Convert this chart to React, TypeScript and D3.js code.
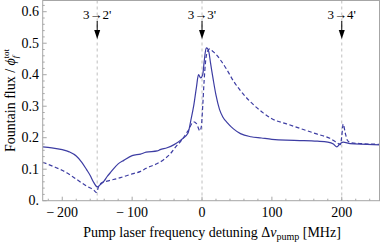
import React from 'react';
import * as d3 from 'd3';

const solidX = [-228, -215, -200, -190, -180, -172, -165, -160, -155, -150, -145, -140, -136, -130, -120, -112, -100, -88, -80, -64, -60, -50, -40, -30, -20, -16, -12, -8, -5, -2, 1, 3, 6, 8, 10, 12, 16, 20, 25, 30, 36, 45, 55, 70, 85, 100, 120, 140, 165, 180, 188, 193, 197, 202, 212, 236, 255];
const solidY = [0.171, 0.168, 0.162, 0.155, 0.142, 0.122, 0.098, 0.08, 0.058, 0.044, 0.052, 0.063, 0.076, 0.092, 0.117, 0.128, 0.143, 0.148, 0.154, 0.158, 0.162, 0.168, 0.178, 0.193, 0.215, 0.255, 0.3, 0.36, 0.4, 0.39, 0.4, 0.44, 0.485, 0.483, 0.47, 0.44, 0.385, 0.335, 0.29, 0.265, 0.248, 0.228, 0.213, 0.203, 0.199, 0.195, 0.192, 0.191, 0.189, 0.186, 0.18, 0.171, 0.18, 0.186, 0.181, 0.179, 0.177];

const dashedX = [-228, -212, -193, -179, -164, -155, -151, -148, -145, -136, -120, -100, -88, -80, -64, -55, -45, -38, -30, -20, -12, -8, -3, -1, 1, 3, 5, 8, 11, 15, 20, 26, 35, 45, 60, 75, 88, 100, 121, 145, 164, 183, 194, 198, 200, 202, 205, 208, 213, 230, 255];
const dashedY = [0.122, 0.108, 0.088, 0.067, 0.045, 0.034, 0.026, 0.045, 0.055, 0.062, 0.071, 0.085, 0.093, 0.103, 0.118, 0.13, 0.15, 0.17, 0.19, 0.222, 0.25, 0.245, 0.222, 0.235, 0.3, 0.38, 0.44, 0.475, 0.482, 0.475, 0.465, 0.448, 0.418, 0.38, 0.336, 0.302, 0.278, 0.26, 0.244, 0.226, 0.212, 0.198, 0.183, 0.178, 0.205, 0.243, 0.215, 0.192, 0.184, 0.181, 0.179];

const transitionX = [-150, 0, 200];
const transitionLabels = ["3\u21922'", "3\u21923'", "3\u21924'"];

const xTicks = [-200, -100, 0, 100, 200];
const xTickLabels = ['\u2212\u2009200', '\u2212\u2009100', '0', '100', '200'];
const yTicks = [0, 0.1, 0.2, 0.3, 0.4, 0.5, 0.6];
const yTickLabels = ['0.', '0.1', '0.2', '0.3', '0.4', '0.5', '0.6'];

const W = 382;
const H = 242;
const left = 42.7;
const right = 379.5;
const top = 0.5;
const bottom = 200.7;
const lineColor = '#3d3da3';
const frameColor = '#a6a6a6';
const font = '"Liberation Serif", "Times New Roman", serif';

export default function App() {
  const x = d3.scaleLinear().domain([-228, 254]).range([left, right]);
  const y = d3.scaleLinear().domain([0, 0.6356]).range([bottom, top]);

  const line = d3.line<[number, number]>()
    .x(d => x(d[0]))
    .y(d => y(d[1]))
    .curve(d3.curveMonotoneX);

  const solid = solidX.map((v, i) => [v, solidY[i]] as [number, number]);
  const dashed = dashedX.map((v, i) => [v, dashedY[i]] as [number, number]);

  const xMinor = d3.range(-220, 260, 20).filter(v => v % 100 !== 0);
  const yMinor = d3.range(0.02, 0.64, 0.02).filter(v => Math.abs(v * 10 - Math.round(v * 10)) > 0.01);

  return (
    <svg width={W} height={H} style={{ position: 'absolute', left: 0, top: 0, background: '#fff' }}>
      <defs>
        <clipPath id="plotClip">
          <rect x={left} y={top} width={right - left} height={bottom - top} />
        </clipPath>
      </defs>

      {/* transition markers */}
      {transitionX.map((v, i) => (
        <g key={'tr' + i}>
          <line x1={x(v)} x2={x(v)} y1={top} y2={bottom} stroke="#b0b0b0" strokeWidth={0.8} strokeDasharray="3,3" />
          <text x={x(v)} y={19} textAnchor="middle" fontFamily={font} fontSize={13}>{transitionLabels[i]}</text>
          <line x1={x(v)} x2={x(v)} y1={21} y2={32} stroke="#000" strokeWidth={1} />
          <path d={`M${x(v) - 3},${30} L${x(v) + 3},${30} L${x(v)},${39} Z`} fill="#000" />
        </g>
      ))}

      {/* data */}
      <g clipPath="url(#plotClip)">
        <path d={line(solid) || ''} fill="none" stroke={lineColor} strokeWidth={1.2} />
        <path d={line(dashed) || ''} fill="none" stroke={lineColor} strokeWidth={1.2} strokeDasharray="4,2.5" />
      </g>

      {/* frame */}
      <rect x={left} y={top} width={right - left} height={bottom - top} fill="none" stroke={frameColor} strokeWidth={1} />

      {/* x ticks */}
      {xTicks.map((v, i) => (
        <g key={'xt' + i}>
          <line x1={x(v)} x2={x(v)} y1={bottom} y2={bottom - 4} stroke={frameColor} />
          <text x={x(v)} y={217} textAnchor="middle" fontFamily={font} fontSize={14}>{xTickLabels[i]}</text>
        </g>
      ))}
      {xMinor.map(v => (
        <line key={'xm' + v} x1={x(v)} x2={x(v)} y1={bottom} y2={bottom - 2} stroke={frameColor} />
      ))}

      {/* y ticks */}
      {yTicks.map((v, i) => (
        <g key={'yt' + i}>
          <line x1={left} x2={left + 4} y1={y(v)} y2={y(v)} stroke={frameColor} />
          <text x={39} y={y(v) + 4.5} textAnchor="end" fontFamily={font} fontSize={14}>{yTickLabels[i]}</text>
        </g>
      ))}
      {yMinor.map(v => (
        <line key={'ym' + v.toFixed(2)} x1={left} x2={left + 2} y1={y(v)} y2={y(v)} stroke={frameColor} />
      ))}

      {/* axis labels */}
      <text x={212} y={237} textAnchor="middle" fontFamily={font} fontSize={14}>
        Pump laser frequency detuning {'\u0394'}<tspan fontStyle="italic">{'\u03BD'}</tspan>
        <tspan fontSize={10} dy={2.5}>pump</tspan>
        <tspan dy={-2.5}> [MHz]</tspan>
      </text>
      <text transform={`translate(15,${(top + bottom) / 2}) rotate(-90)`} textAnchor="middle" fontFamily={font} fontSize={14}>
        Fountain flux / <tspan fontStyle="italic">{'\u03D5'}</tspan>
        <tspan fontSize={9} dy={3} fontStyle="italic">f</tspan>
        <tspan fontSize={9} dy={-9} dx={-3}>tot</tspan>
      </text>
    </svg>
  );
}
